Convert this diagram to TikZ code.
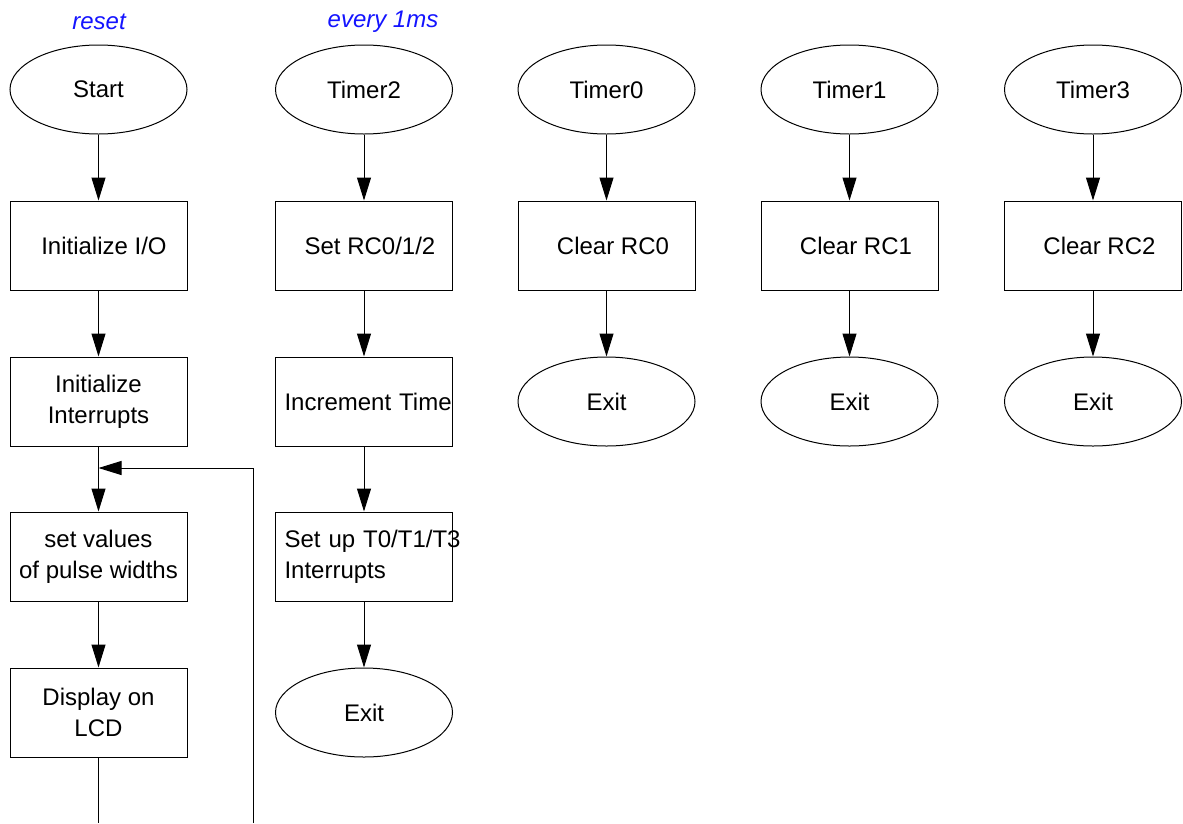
\documentclass[tikz,border=0pt]{standalone}
\usepackage{fontspec}
\setmainfont{Liberation Sans}
\usetikzlibrary{shapes.geometric,arrows.meta}
\begin{document}
\begin{tikzpicture}[x=1pt,y=1pt,
  font=\fontsize{24}{31}\selectfont,
  every node/.style={inner sep=0pt},
  term/.style={draw,ellipse,line width=1pt,minimum width=177pt,minimum height=89pt},
  sproc/.style={draw,rectangle,line width=1pt,minimum width=177pt,minimum height=89pt},
  proc/.style={sproc,align=center},
  lproc/.style={sproc,text width=159pt,align=left,inner xsep=9pt},
  flow/.style={draw,line width=1pt,-{Triangle[length=23pt,width=14pt]}},
  plain/.style={draw,line width=1pt},
  note/.style={text={rgb,255:red,20;green,20;blue,255},font=\fontsize{24}{31}\selectfont\itshape}]
\useasboundingbox (0,0) rectangle (1183,-823);

% labels
\node[note] (reset) at (99,-22) {reset};
\node[note] (every) at (383,-22) {every 1ms};

% column 1: main program
\node[term] (start) at (98.5,-89.5) {Start};
\node[sproc] (io) at (98.5,-245.5) {\hspace*{11pt}Initialize I/O};
\node[proc] (ints) at (98.5,-401.5) {Initialize\\Interrupts};
\node[proc] (pw) at (98.5,-556.5) {set values\\of pulse widths};
\node[proc] (lcd) at (98.5,-712.5) {Display on\\LCD};
\coordinate (b1) at (98.5,-823);
\coordinate (b2) at (253,-823);
\coordinate (c) at (253,-468);
\coordinate (j) at (98.5,-468);

\draw[flow] (start) -- (io);
\draw[flow] (io) -- (ints);
\draw[flow] (ints) -- (pw);
\draw[flow] (pw) -- (lcd);
\draw[plain] (lcd.south) -- (b1);
\draw[flow] (b2) -- (c) -- (j);

% column 2: Timer2 ISR
\node[term] (t2) at (364,-89.5) {Timer2};
\node[sproc] (rc) at (364,-245.5) {\hspace*{12pt}Set RC0/1/2};
\node[lproc] (inc) at (364,-401.5) {\mbox{Increment Time}};
\node[lproc] (setup) at (364,-556.5) {\mbox{Set up T0/T1/T3}\\Interrupts};
\node[term] (exit2) at (364,-712.5) {Exit};
\draw[flow] (t2) -- (rc);
\draw[flow] (rc) -- (inc);
\draw[flow] (inc) -- (setup);
\draw[flow] (setup) -- (exit2);

% columns 3-5: Timer0/1/3 ISRs
\foreach \x/\t/\r/\n in {606.5/Timer0/RC0/a, 849.5/Timer1/RC1/b, 1093/Timer3/RC2/c}{
  \node[term] (tm\n) at (\x,-89.5) {\t};
  \node[sproc] (cl\n) at (\x,-245.5) {\hspace*{13pt}Clear \r};
  \node[term] (ex\n) at (\x,-401.5) {Exit};
  \draw[flow] (tm\n) -- (cl\n);
  \draw[flow] (cl\n) -- (ex\n);
}
\end{tikzpicture}
\end{document}
